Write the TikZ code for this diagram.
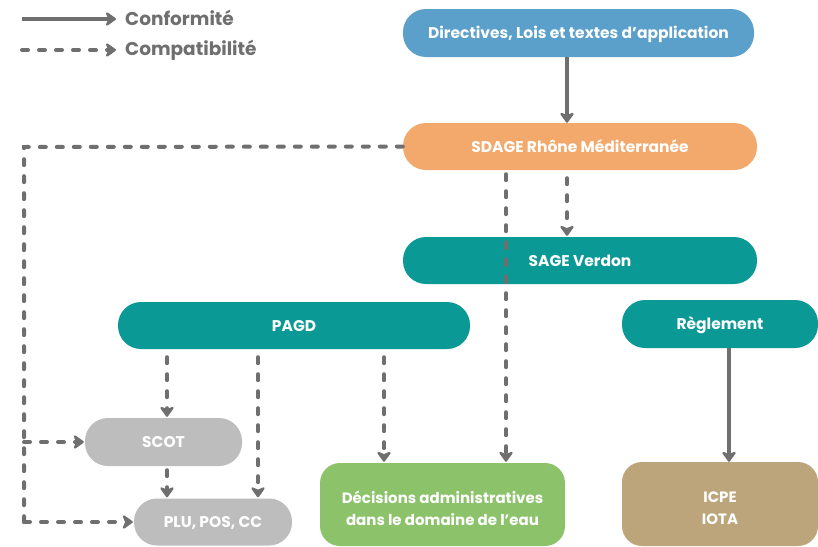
\documentclass[tikz,border=0pt]{standalone}
\usepackage{fontspec}
\setmainfont{Poppins}
\usetikzlibrary{arrows.meta}
\definecolor{cblue}{HTML}{5B9FCB}
\definecolor{corange}{HTML}{F4A96C}
\definecolor{cteal}{HTML}{0B9996}
\definecolor{cgray}{HTML}{BDBDBD}
\definecolor{cgreen}{HTML}{8CC36A}
\definecolor{ctan}{HTML}{BCA57B}
\definecolor{cline}{HTML}{6F6F6F}
\tikzset{
  pill/.style={rectangle, rounded corners=23pt, inner sep=0pt, text=white,
    font=\bfseries\fontsize{15.5}{18}\selectfont, align=center, text height=11pt, text depth=0pt},
  boxr/.style={rectangle, rounded corners=20pt, inner sep=0pt},
  boxtext/.style={inner sep=0pt, text=white, font=\bfseries\fontsize{15}{22}\selectfont, align=center},
  conf/.style={draw=cline, line width=4pt, -{Stealth[length=12pt,width=17pt,inset=3.5pt,round]}},
  compat/.style={draw=cline, line width=4pt, line cap=round, dash pattern=on 6pt off 11pt,
    -{Stealth[length=12pt,width=17pt,inset=3.5pt,round]}},
  compatnt/.style={draw=cline, line width=4pt, line cap=round, dash pattern=on 6pt off 11pt},
  legtext/.style={text=cline, font=\bfseries\fontsize{18.5}{22}\selectfont, anchor=west, inner sep=0pt}
}
\begin{document}
\begin{tikzpicture}[x=1pt,y=-1pt]
\clip (0,0) rectangle (818,546);
\fill[white] (0,0) rectangle (818,546);
% nodes
\node[pill, fill=cblue, minimum width=351pt, minimum height=48pt] (dir) at (578.5,33) {Directives, Lois et textes d’application};
\node[pill, fill=corange, minimum width=354pt, minimum height=47pt] (sdage) at (580,146.5) {SDAGE Rhône Méditerranée};
\node[pill, fill=cteal, minimum width=354pt, minimum height=47pt] (sage) at (580,260.5) {SAGE Verdon};
\node[pill, fill=cteal, minimum width=352pt, minimum height=47pt] (pagd) at (294,325.5) {PAGD};
\node[pill, fill=cteal, minimum width=196pt, minimum height=48pt] (regl) at (720,324) {Règlement};
\node[pill, fill=cgray, minimum width=157pt, minimum height=48pt] (scot) at (163.5,442) {SCOT};
\node[pill, fill=cgray, minimum width=158pt, minimum height=47pt] (plu) at (213,522) {PLU, POS, CC};
\node[boxr, fill=cgreen, minimum width=245pt, minimum height=83pt] (dec) at (442.5,504.5) {};
\node[boxr, fill=ctan, minimum width=196pt, minimum height=84pt] (icpe) at (720,504) {};
\node[boxtext, yshift=-3.5pt] (dectxt) at (dec.center) {Décisions administratives\\dans le domaine de l’eau};
\node[boxtext, yshift=-4pt] (icpetxt) at (icpe.center) {ICPE\\IOTA};
% legend
\coordinate (l1a) at (22,19); \coordinate (l1b) at (116,19);
\coordinate (l2a) at (22,50); \coordinate (l2b) at (116,50);
\draw[conf, line cap=butt] (l1a) -- (l1b);
\draw[compat] (l2a) -- (l2b);
\node[legtext] (lc) at (125,18) {Conformité};
\node[legtext] (lp) at (125,50) {Compatibilité};
% connectors
\draw[conf] (dir.south -| 567,0) -- (sdage.north -| 567,0);
\draw[compat] ([yshift=-8pt]sdage.south -| 567,0) -- ([yshift=1pt]sage.north -| 567,0);
\draw[compat] ([yshift=-4pt]sdage.south -| 506,0) -- ([yshift=1pt]dec.north -| 506,0);
\coordinate (c1) at (24,147);
\coordinate (c2) at (24,442);
\coordinate (c3) at (24,522);
\draw[compatnt] (sdage.west) -- (c1) -- (c3);
\draw[compat] (c2) -- ([xshift=-1pt]scot.west);
\draw[compat] (c3) -- ([xshift=-1pt]plu.west);
\draw[compat] ([yshift=-8pt]pagd.south -| 167,0) -- ([yshift=1pt]scot.north -| 167,0);
\draw[compat] ([yshift=-8pt]pagd.south -| 258,0) -- ([yshift=1pt]plu.north -| 258,0);
\draw[compat] ([yshift=-8pt]pagd.south -| 384,0) -- ([yshift=1pt]dec.north -| 384,0);
\draw[compat] ([yshift=-4pt]scot.south -| 167,0) -- ([yshift=1pt]plu.north -| 167,0);
\draw[conf] (regl.south -| 729,0) -- (icpe.north -| 729,0);
\end{tikzpicture}
\end{document}
